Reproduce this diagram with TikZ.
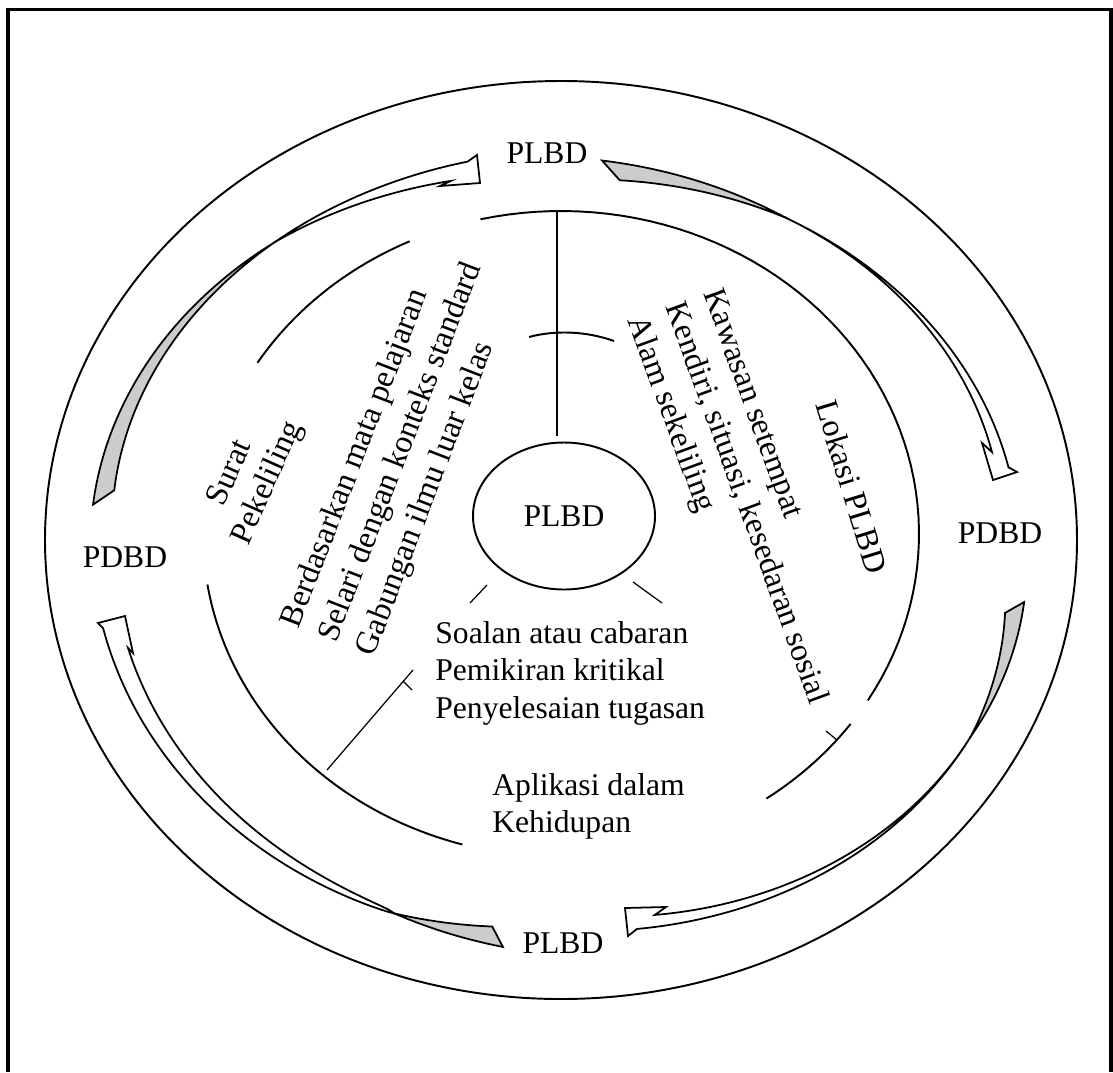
\documentclass[tikz,border=0pt]{standalone}
\usepackage{fontspec}
\setmainfont{Liberation Serif}
\usetikzlibrary{shapes.geometric}

\tikzset{
  lbl/.style={font=\fontsize{18}{21.4}\selectfont, inner sep=0pt},
  rotlbl/.style={font=\fontsize{18.4}{22.8}\selectfont, inner sep=0pt},
  ring/.style={line width=1.1pt},
  spoke/.style={line width=0.7pt},
  backside/.style={draw, fill=gray!40, line width=1pt},
  frontside/.style={draw, fill=white, line width=1pt},
}

\begin{document}
\begin{tikzpicture}[x=0.2mm, y=-0.2mm, variable=\t, samples=60,
    declare function={tw(\s)=abs(\s)*sqrt(abs(\s)); rt(\s)=sqrt(abs(\s));}]
    \useasboundingbox (0,0) rectangle (1113,1072);
    % Frame, open at the bottom
    \draw[line width=1.8pt] (8,1072) -- (8,9.5) -- (1111,9.5) -- (1111,1072);

    % Outer ring
    \draw[ring] (561,540) ellipse [x radius=516, y radius=459];

    % Inner ring (broken)
    \draw[ring] plot[domain=-103:31] ({561+358*cos(\t)}, {534+323*sin(\t)});
    \draw[ring] plot[domain=36:55] ({561+358*cos(\t)}, {534+323*sin(\t)});
    \draw[ring] plot[domain=106:171] ({561+358*cos(\t)}, {534+323*sin(\t)});
    \draw[ring] plot[domain=212:245] ({561+358*cos(\t)}, {534+323*sin(\t)});
    \draw[ring] (529,337) .. controls (555,330) and (586,331) .. (614,341);

    % Centre
    \node[lbl, draw, ellipse, line width=1.1pt, minimum width=36.4mm, minimum height=29.4mm] (core) at (564,516) {PLBD};

    % Spokes
    \coordinate (spoketop) at (557,212);
    \coordinate (spokelow) at (557,436);
    \draw[spoke] (spoketop) -- (spokelow);
    \draw[spoke] (487,585) -- (470,603);
    \draw[spoke] (633,582) -- (662,603);
    \coordinate (spokein) at (413,670);
    \coordinate (spokeout) at (327,770);
    \draw[spoke] (spokeout) -- (spokein);
    \draw[spoke] (403,681) -- (412,690);
    \draw[spoke] (826,731) -- (837,740);

    % Arrow: left PDBD to top PLBD
    \draw[backside] plot[domain=185.3:232] ({561+(465+5*abs((232-\t)/46.7))*cos(\t)}, {540+(378+5*abs((232-\t)/46.7))*sin(\t)})
        -- plot[domain=232:187.85] ({561+(465-14*abs((232-\t)/44.15))*cos(\t)}, {540+(378-14*abs((232-\t)/44.15))*sin(\t)}) -- cycle;
    \draw[frontside] plot[domain=232:258.6] ({561+(465+8*abs((\t-232)/26.6))*cos(\t)}, {540+(378+8*abs((\t-232)/26.6))*sin(\t)})
        -- (477,155) -- (480,183) -- (440,186)
        -- plot[domain=256.05:232] ({561+(465-8*abs((\t-232)/24.05))*cos(\t)}, {540+(378-8*abs((\t-232)/24.05))*sin(\t)}) -- cycle;

    % Arrow: top PLBD to right PDBD
    \draw[backside] plot[domain=275.14:300] ({561+(450+9*abs((300-\t)/24.86))*cos(\t)}, {540+(372+9*abs((300-\t)/24.86))*sin(\t)})
        -- plot[domain=300:277.65] ({561+(450-9*abs((300-\t)/22.35))*cos(\t)}, {540+(372-9*abs((300-\t)/22.35))*sin(\t)}) -- cycle;
    \draw[frontside] plot[domain=300:348.9] ({561+(450+6*tw((\t-300)/48.9))*cos(\t)}, {540+(372+6*tw((\t-300)/48.9))*sin(\t)})
        -- (1017,472) -- (993,480) -- (982,443)
        -- plot[domain=346.1:300] ({561+(450-6*tw((\t-300)/46.1))*cos(\t)}, {540+(372-6*tw((\t-300)/46.1))*sin(\t)}) -- cycle;

    % Arrow: right PDBD to bottom PLBD
    \draw[backside] plot[domain=3.57:27] ({600+(416+9*abs((27-\t)/23.43))*cos(\t)}, {580+(345+9*abs((27-\t)/23.43))*sin(\t)})
        -- plot[domain=27:5.62] ({600+(416-9*abs((27-\t)/21.38))*cos(\t)}, {580+(345-9*abs((27-\t)/21.38))*sin(\t)}) -- cycle;
    \draw[frontside] plot[domain=27:84.96] ({600+(416+5.3*tw((\t-27)/57.96))*cos(\t)}, {580+(345+5.3*tw((\t-27)/57.96))*sin(\t)})
        -- (628,936) -- (625,908) -- (666,907)
        -- plot[domain=82.3:27] ({600+(416-7*tw((\t-27)/55.3))*cos(\t)}, {580+(345-7*tw((\t-27)/55.3))*sin(\t)}) -- cycle;

    % Arrow: bottom PLBD to left PDBD
    \draw[backside] plot[domain=97.03:111] ({561+(465+10*abs((111-\t)/13.97))*cos(\t)}, {540+(400+10*abs((111-\t)/13.97))*sin(\t)})
        -- plot[domain=111:98.67] ({561+(465-9*abs((111-\t)/12.33))*cos(\t)}, {540+(400-9*abs((111-\t)/12.33))*sin(\t)}) -- cycle;
    \draw[frontside] plot[domain=111:167.4] ({561+(465+4.2*rt((\t-111)/56.4))*cos(\t)}, {540+(400+4.2*rt((\t-111)/56.4))*sin(\t)})
        -- (98,623) -- (125,616) -- (133,653)
        -- plot[domain=163.75:111] ({561+(465-14*rt((\t-111)/52.75))*cos(\t)}, {540+(400-14*rt((\t-111)/52.75))*sin(\t)}) -- cycle;

    % Labels on the outer ring
    \node[lbl] (plbdtop) at (547,153) {PLBD};
    \node[lbl] (pdbdright) at (1000,533) {PDBD};
    \node[lbl] (pdbdleft) at (125,557) {PDBD};
    \node[lbl] (plbdbottom) at (563,943) {PLBD};

    % Labels in the inner ring
    \node[rotlbl, rotate=66] (surat) at (228,472) {Surat};
    \node[rotlbl, rotate=66] (pekeliling) at (268,483) {Pekeliling};
    \node[rotlbl, rotate=69, align=left, anchor=west] (subjek) at (329,641)
        {Berdasarkan mata pelajaran\\Selari dengan konteks standard\\Gabungan ilmu luar kelas};
    \node[rotlbl, rotate=-70, align=left, anchor=west] (kawasan) at (672,304)
        {Kawasan setempat\\Kendiri, situasi, kesedaran sosial\\Alam sekeliling};
    \node[rotlbl, rotate=-73] (lokasi) at (852,487) {Lokasi PLBD};
    \node[lbl, align=left, anchor=north west] (soalan) at (435,621)
        {Soalan atau cabaran\\Pemikiran kritikal\\Penyelesaian tugasan};
    \node[lbl, align=left, anchor=north west] (aplikasi) at (492,773) {Aplikasi dalam\\Kehidupan};
\end{tikzpicture}
\end{document}
